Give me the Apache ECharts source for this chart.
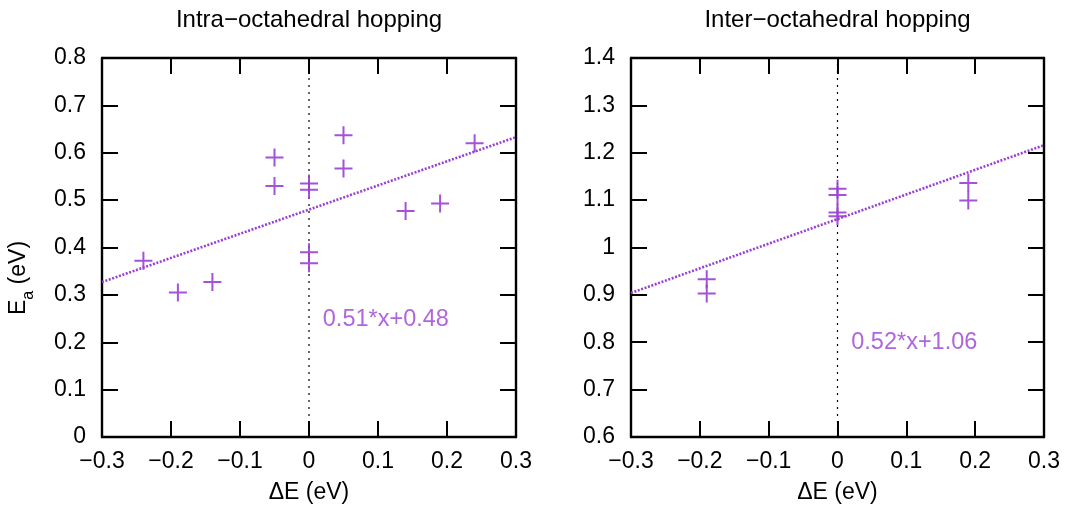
<!DOCTYPE html>
<html>
<head>
<meta charset="utf-8">
<script src="https://cdn.jsdelivr.net/npm/echarts@6/dist/echarts.min.js"></script>
<style>
  html, body { margin: 0; padding: 0; background: #fff; }
  #c { width: 1067px; height: 510px; }
</style>
</head>
<body>
<div id="c"></div>
<script>
// Panel titles and axis ranges
const panelTitles = ['Intra\u2212octahedral hopping', 'Inter\u2212octahedral hopping'];
const xRange = [-0.3, 0.3];
const yRanges = [[0, 0.8], [0.6, 1.4]];
const tickStep = 0.1;

// Activation energies vs. energy difference
const intraDE = [-0.24, -0.19, -0.14, -0.05, -0.05, 0, 0, 0, 0, 0.05, 0.05, 0.14, 0.19, 0.24];
const intraEa = [0.372, 0.305, 0.327, 0.59, 0.53, 0.535, 0.522, 0.39, 0.367, 0.637, 0.567, 0.477, 0.493, 0.62];
const interDE = [-0.19, -0.19, 0, 0, 0, 0, 0.19, 0.19];
const interEa = [0.933, 0.903, 1.124, 1.111, 1.074, 1.066, 1.136, 1.099];

// Linear fits: Ea = slope * dE + intercept
const fitSlope = [0.51, 0.52];
const fitIntercept = [0.48, 1.06];
const fitLabels = ['0.51*x+0.48', '0.52*x+1.06'];
const fitLabelAt = [[0.02, 0.247], [0.02, 0.8]];

const PURPLE = '#9a3fd5';
const FONT = 'Liberation Sans, Arial, Helvetica, sans-serif';
const FS = 23;

const grids = [
  { left: 102, top: 58, width: 414, height: 379 },
  { left: 631, top: 58, width: 413, height: 379 }
];

function fmt(v) {
  const r = Math.round(v * 10) / 10;
  return r < 0 ? '\u2212' + Math.abs(r) : String(r);
}

const tickStyle = { show: true, inside: true, length: 16, lineStyle: { color: '#000', width: 2 } };
const lineStyleAxis = { show: true, onZero: false, lineStyle: { color: '#000', width: 2.4 } };

const xAxes = [], yAxes = [], series = [];
const plusPath = 'path://M8,0H10V8H18V10H10V18H8V10H0V8H8Z';

for (let g = 0; g < 2; g++) {
  // bottom x axis
  xAxes.push({
    gridIndex: g, type: 'value', position: 'bottom',
    min: xRange[0], max: xRange[1], interval: tickStep,
    axisLine: lineStyleAxis, axisTick: tickStyle, splitLine: { show: false },
    axisLabel: { formatter: fmt, color: '#000', fontFamily: FONT, fontSize: FS, margin: 13 },
    name: '\u0394E (eV)', nameLocation: 'middle', nameGap: 44,
    nameTextStyle: { color: '#000', fontFamily: FONT, fontSize: FS }
  });
  // top mirror axis carrying the panel title
  xAxes.push({
    gridIndex: g, type: 'value', position: 'top',
    min: xRange[0], max: xRange[1], interval: tickStep,
    axisLine: lineStyleAxis, axisTick: tickStyle, splitLine: { show: false },
    axisLabel: { show: false },
    name: panelTitles[g], nameLocation: 'middle', nameGap: 26,
    nameTextStyle: { color: '#000', fontFamily: FONT, fontSize: 24 }
  });
  yAxes.push({
    gridIndex: g, type: 'value', position: 'left',
    min: yRanges[g][0], max: yRanges[g][1], interval: tickStep,
    axisLine: lineStyleAxis, axisTick: tickStyle, splitLine: { show: false },
    axisLabel: { formatter: fmt, color: '#000', fontFamily: FONT, fontSize: FS, margin: 16 }
  });
  yAxes.push({
    gridIndex: g, type: 'value', position: 'right',
    min: yRanges[g][0], max: yRanges[g][1], interval: tickStep,
    axisLine: lineStyleAxis, axisTick: tickStyle, splitLine: { show: false },
    axisLabel: { show: false }
  });

  const xi = g * 2, yi = g * 2;
  // vertical reference at dE = 0
  series.push({
    type: 'line', xAxisIndex: xi, yAxisIndex: yi, silent: true, symbol: 'none',
    data: [[0, yRanges[g][0]], [0, yRanges[g][1]]],
    lineStyle: { color: '#000', width: 1.2, type: [2, 5] }, z: 1
  });
  // fitted line
  const fx = xRange.map(x => [x, fitSlope[g] * x + fitIntercept[g]]);
  series.push({
    type: 'line', xAxisIndex: xi, yAxisIndex: yi, silent: true, symbol: 'none',
    data: fx, lineStyle: { color: PURPLE, width: 2.6, type: [2, 1.6] }, z: 2
  });
  // data points
  const xs = g === 0 ? intraDE : interDE;
  const ys = g === 0 ? intraEa : interEa;
  series.push({
    type: 'scatter', xAxisIndex: xi, yAxisIndex: yi, silent: true,
    symbol: plusPath, symbolSize: 18,
    itemStyle: { color: PURPLE, opacity: 0.9 },
    data: xs.map((x, i) => [x, ys[i]]), z: 3
  });
  // fit equation label
  series.push({
    type: 'scatter', xAxisIndex: xi, yAxisIndex: yi, silent: true,
    symbolSize: 0,
    data: [{ value: fitLabelAt[g], label: {
      show: true, formatter: fitLabels[g], position: 'right', distance: 0,
      color: PURPLE, fontFamily: FONT, fontSize: 23.5
    } }], z: 4
  });
}

const chart = echarts.init(document.getElementById('c'), null, { renderer: 'canvas' });
chart.setOption({
  backgroundColor: '#fff',
  animation: false,
  grid: grids,
  xAxis: xAxes,
  yAxis: yAxes,
  series: series,
  graphic: [{
    // y-axis title with subscript
    type: 'text', x: 22, y: 278, rotation: Math.PI / 2,
    style: {
      text: '{e|E}{s|a}{e| (eV)}',
      align: 'center', verticalAlign: 'middle',
      fontFamily: FONT, fontSize: FS, fill: '#000',
      rich: {
        e: { fontFamily: FONT, fontSize: FS, fill: '#000', verticalAlign: 'top', padding: [0, 0, 6, 0] },
        s: { fontFamily: FONT, fontSize: 16, fill: '#000', verticalAlign: 'bottom' }
      }
    }
  }]
});
</script>
</body>
</html>
